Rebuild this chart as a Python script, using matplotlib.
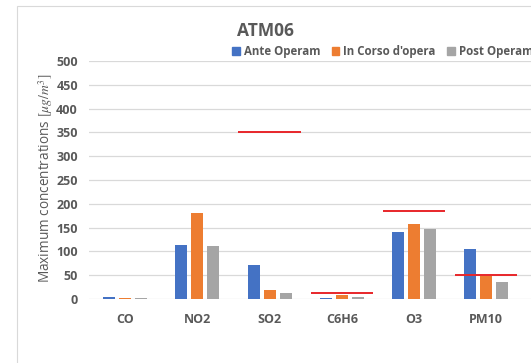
import matplotlib.pyplot as plt
import numpy as np
from matplotlib.patches import Rectangle, Patch

plt.rcParams['font.family'] = ['Open Sans', 'DejaVu Sans']
plt.rcParams['mathtext.fontset'] = 'stix'

pollutants = ["CO", "NO2", "SO2", "C6H6", "O3", "PM10"]
ante_operam = [5, 114, 72, 3, 140, 106]
in_corso = [3, 180, 18, 9, 157, 49]
post_operam = [3, 111, 12, 5, 147, 36]
# limit values drawn as red marks (CO / NO2 have none)
limits = [np.nan, np.nan, 350, 12, 185, 51]

series = ["Ante Operam", "In Corso d'opera", "Post Operam"]
colors = ["#4472c4", "#ed7d31", "#a5a5a5"]
grey = "#595959"

fig = plt.figure(figsize=(5.31, 3.63), dpi=100)
ax = fig.add_axes([0.1676, 0.1763, 0.8324, 0.6556])

ind = np.arange(len(pollutants))
width = 0.166
for i, vals in enumerate([ante_operam, in_corso, post_operam]):
    ax.bar(ind + (i - 1) * 0.222, vals, width, color=colors[i], zorder=3)

ax.hlines(limits, ind - 0.43, ind + 0.43, color="#e8262a", lw=1.4, zorder=4)

ax.set_xlim(-0.5, 5.62)
ax.set_ylim(0, 500)
ax.set_yticks(np.arange(0, 501, 50))
ax.set_xticks(ind)
ax.set_xticklabels(pollutants)
ax.grid(axis="y", color="#d9d9d9", lw=0.9, zorder=0)
for s in ax.spines.values():
    s.set_visible(False)
ax.tick_params(length=0, colors=grey, labelsize=9, pad=8)
ax.tick_params(axis="x", pad=10)
for lab in ax.get_xticklabels() + ax.get_yticklabels():
    lab.set_fontweight("bold")

fig.text(0.085, 0.51, r"Maximum concentrations $[\mu g/m^3]$", rotation=90,
         ha="center", va="center", color=grey, fontsize=9.8)
fig.text(0.5, 0.915, "ATM06", ha="center", va="center", color=grey,
         fontsize=12.5, fontweight="bold")

handles = [Patch(color=c) for c in colors]
leg = fig.legend(handles, series, loc="center left", bbox_to_anchor=(0.437, 0.858),
                 ncol=3, frameon=False, fontsize=8.3, handlelength=0.65,
                 handleheight=0.65, handletextpad=0.35, columnspacing=1.0,
                 borderaxespad=0, borderpad=0)
for t in leg.get_texts():
    t.set_color(grey)
    t.set_fontweight("bold")

# outer chart border (only top and left visible in the crop)
fig.add_artist(Rectangle((0.032, -0.1), 1.2, 1.083, transform=fig.transFigure,
                         fill=False, edgecolor="#d9d9d9", lw=0.8))

plt.savefig("out.png", dpi=100)
